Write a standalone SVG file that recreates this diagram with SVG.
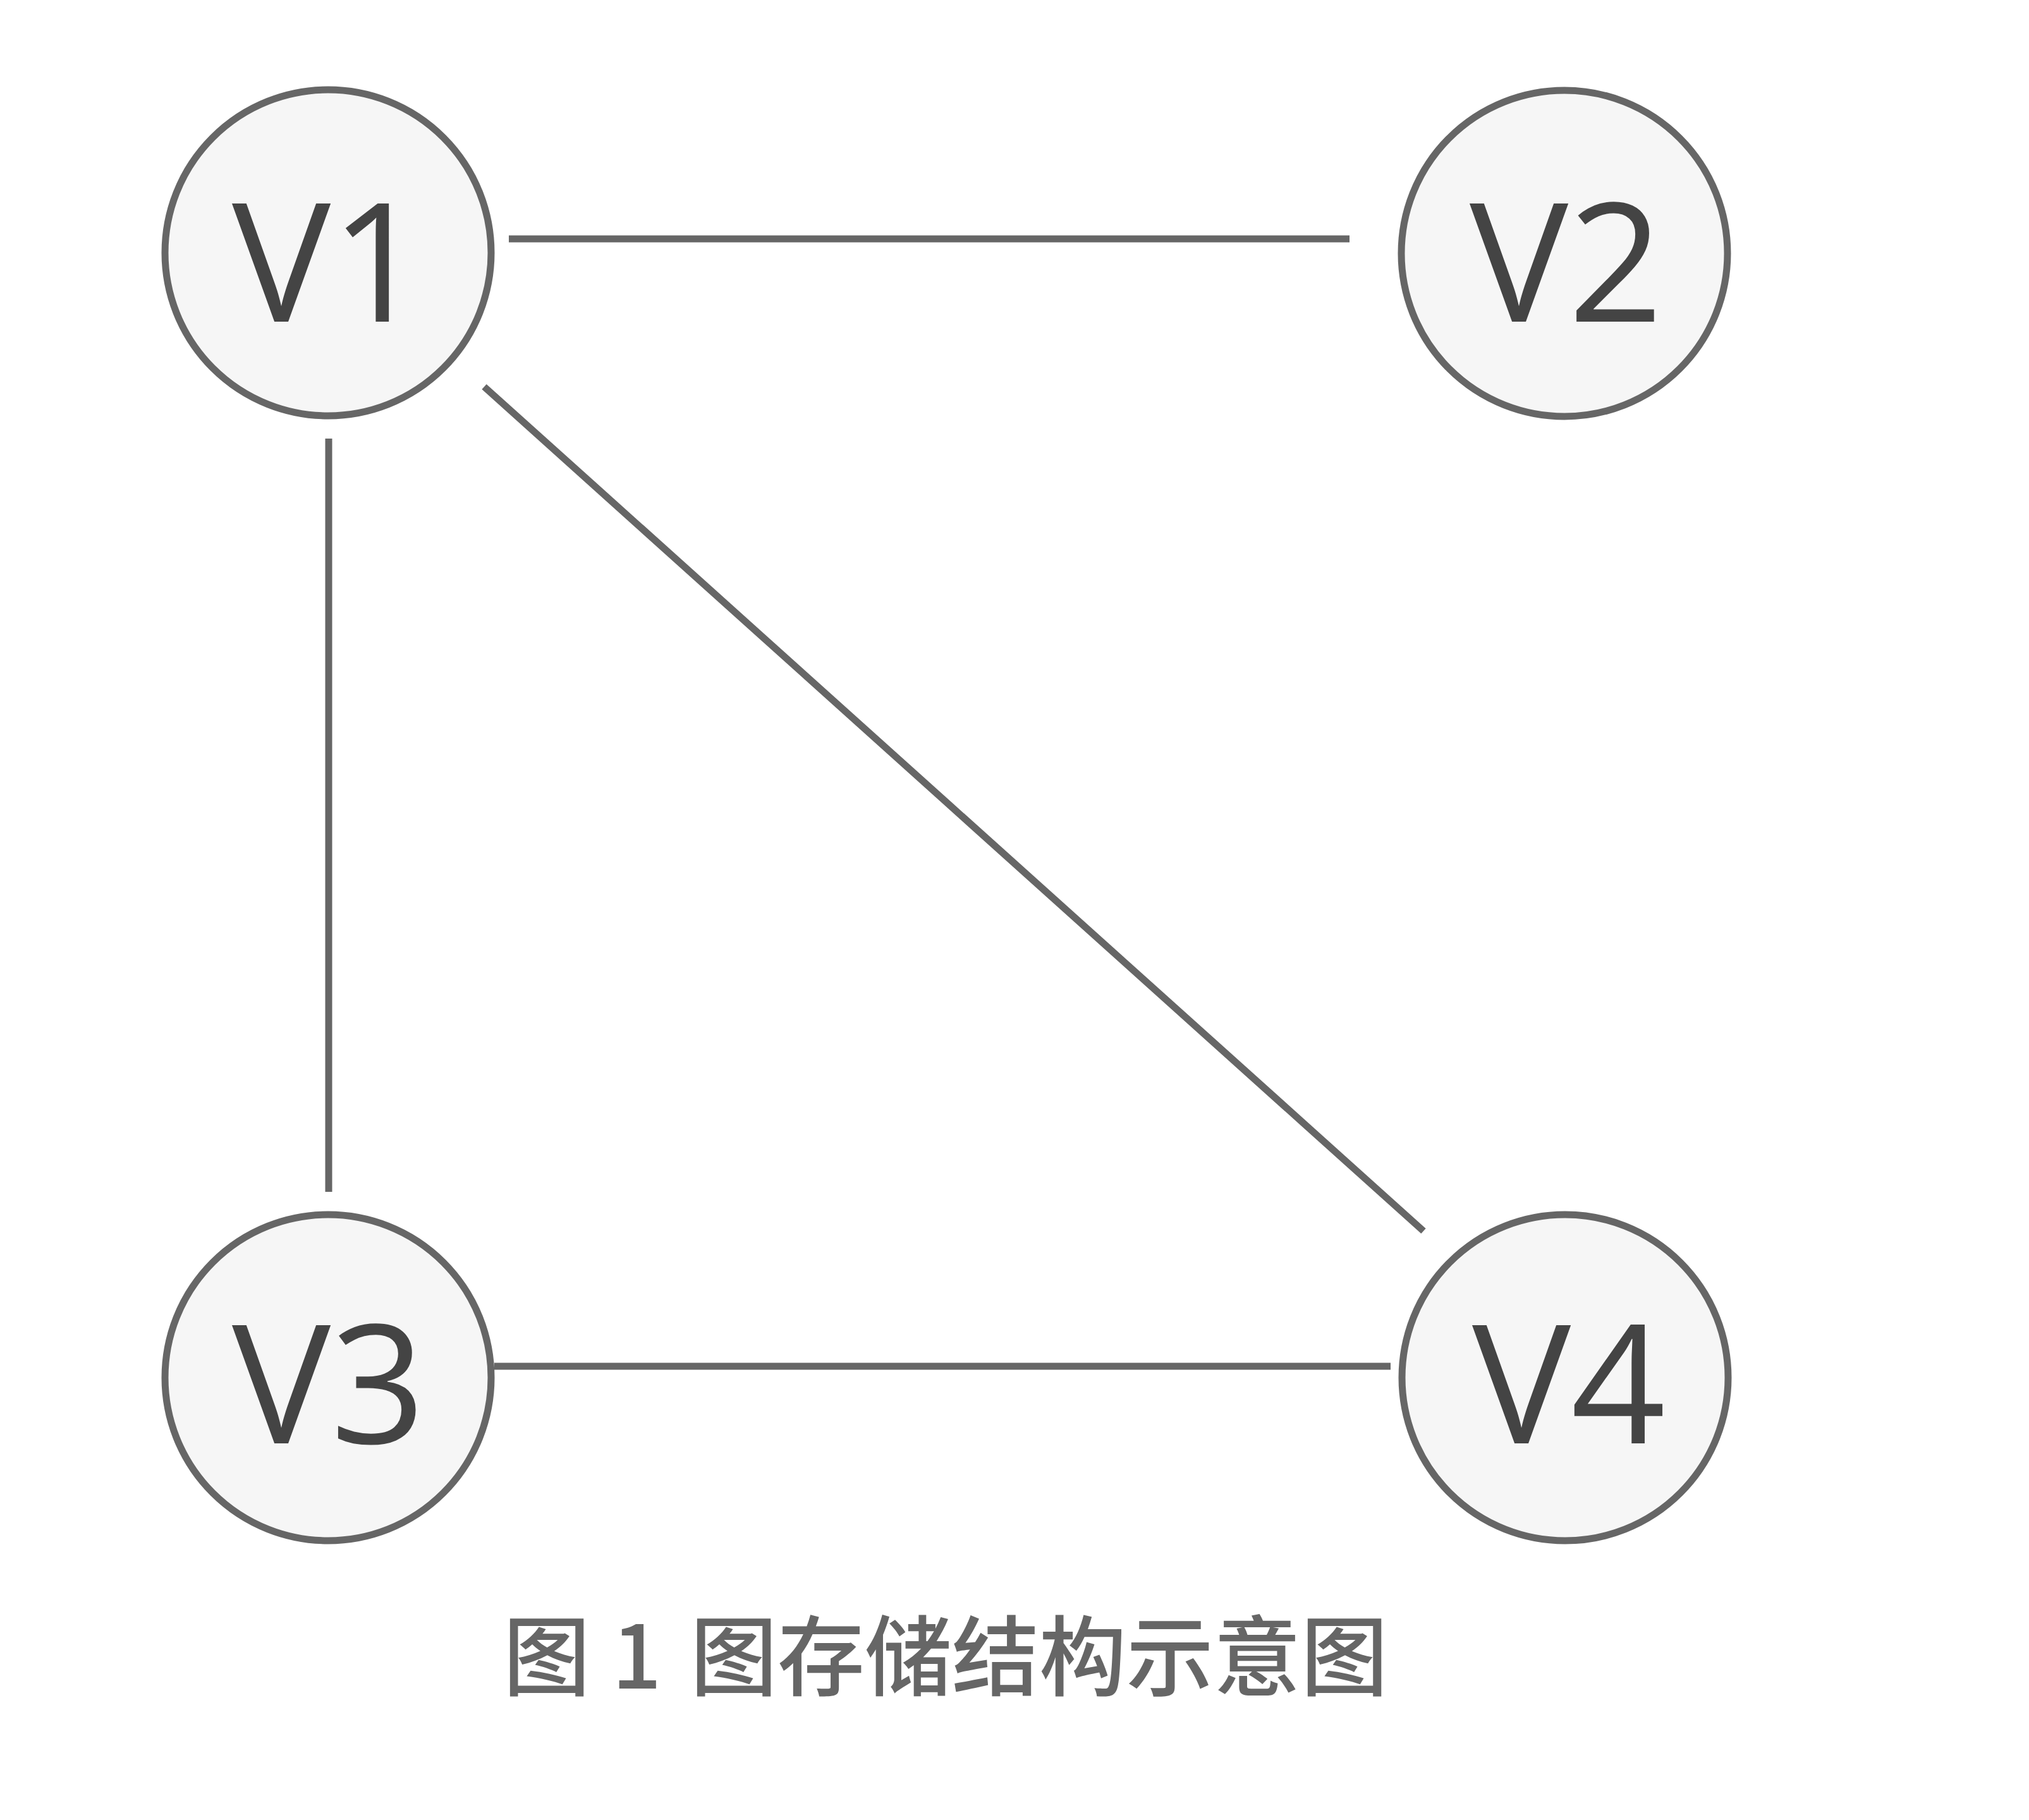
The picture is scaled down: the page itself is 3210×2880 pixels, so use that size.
<svg xmlns="http://www.w3.org/2000/svg" width="3210" height="2880" viewBox="0 0 3210 2880">
<style>
.node circle{fill:#f6f6f6;stroke:#666;stroke-width:11}
.node text{font-family:"Open Sans","DejaVu Sans",sans-serif;font-size:262px;font-weight:500;fill:#444;text-anchor:middle}
.edge{stroke:#666;stroke-width:11;fill:none}
.cap{font-family:"Noto Sans CJK SC","Noto Sans",sans-serif;font-size:138px;font-weight:500;fill:#666}
</style>
<rect width="3210" height="2880" fill="#ffffff"/>
<g id="connectors">
<line class="edge" x1="805" y1="378" x2="2135" y2="378"/>
<line class="edge" x1="520" y1="694" x2="520" y2="1886"/>
<line class="edge" x1="766" y1="612" x2="2252" y2="1948"/>
<line class="edge" x1="782" y1="2162" x2="2200" y2="2162"/>
</g>
<g id="V1" class="node"><circle cx="519" cy="400" r="258"/><text x="520" y="509">V1</text></g>
<g id="V2" class="node"><circle cx="2475" cy="401" r="258"/><text x="2478" y="509">V2</text></g>
<g id="V3" class="node"><circle cx="519" cy="2180" r="258"/><text x="520" y="2284">V3</text></g>
<g id="V4" class="node"><circle cx="2476" cy="2180" r="258"/><text x="2482" y="2284">V4</text></g>
<g id="caption">
<text class="cap" y="2672"><tspan x="796">图</tspan><tspan x="968">1</tspan><tspan x="1092">图存储结构示意图</tspan></text>
</g>
</svg>
